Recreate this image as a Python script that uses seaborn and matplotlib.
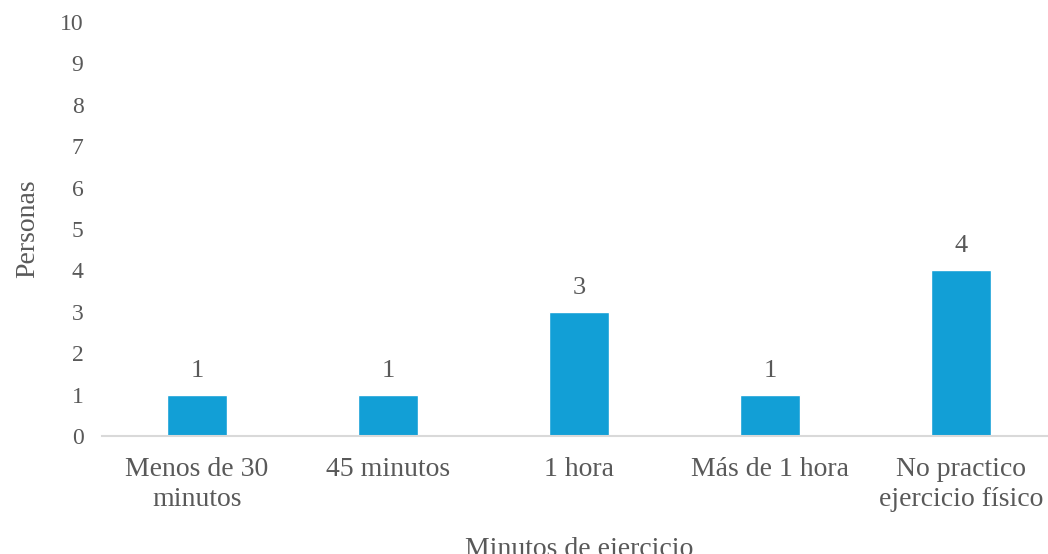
import matplotlib
matplotlib.use('Agg')
import matplotlib.pyplot as plt
import seaborn as sns
import pandas as pd

# datos
categorias = ['Menos de 30\nminutos', '45 minutos', '1 hora', 'Más de 1 hora', 'No practico\nejercicio físico']
personas = [1, 1, 3, 1, 4]
y_ticks = list(range(0, 11))

sns.set_theme(style='white')
plt.rcParams['font.family'] = ['Liberation Serif', 'DejaVu Serif']

gris = '#595959'
azul = '#129FD6'

df = pd.DataFrame({'cat': categorias, 'val': personas})

fig = plt.figure(figsize=(10.48, 5.54), dpi=100)
ax = fig.add_axes([101.5 / 1048, 1 - 436 / 554, 955 / 1048, (436 - 22) / 554])

sns.barplot(data=df, x='cat', y='val', color=azul, width=0.314, ax=ax, saturation=1)

for i, v in enumerate(personas):
    ax.text(i, v + 0.58, str(v), ha='center', va='center', fontsize=19, color=gris)

ax.set_ylim(0, 10)
ax.set_yticks(y_ticks)
ax.set_xlim(-0.5, 4.5)
ax.tick_params(axis='y', length=0, labelsize=17, colors=gris, pad=13)
ax.tick_params(axis='x', length=0, labelsize=20, colors=gris, pad=15)
for t in ax.get_xticklabels():
    t.set_linespacing(1.25)
ax.set_ylabel('Personas', fontsize=20, color=gris, labelpad=14)
ax.set_xlabel('Minutos de ejercicio', fontsize=20, color=gris, labelpad=18)

for s in ['top', 'right', 'left']:
    ax.spines[s].set_visible(False)
ax.spines['bottom'].set_color('#D9D9D9')
ax.spines['bottom'].set_linewidth(1.5)

fig.savefig('out.png', dpi=100)
